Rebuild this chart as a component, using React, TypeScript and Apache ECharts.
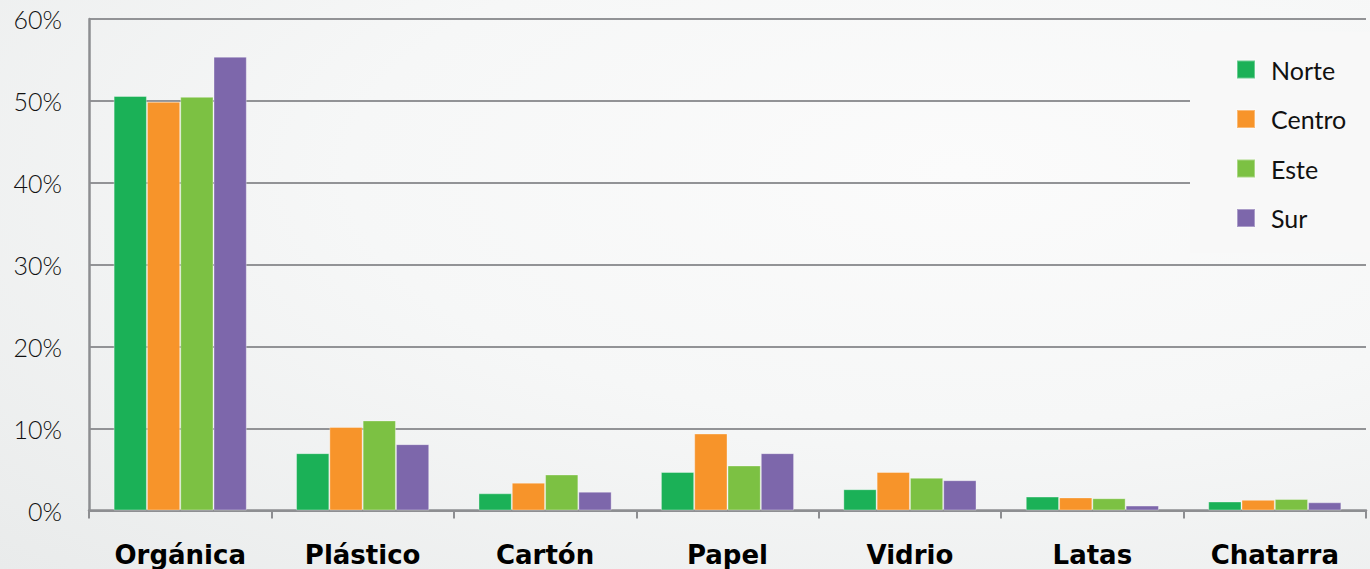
import React, { useEffect, useRef } from "react";
import * as echarts from "echarts";

const categories = ["Orgánica", "Plástico", "Cartón", "Papel", "Vidrio", "Latas", "Chatarra"];
const seriesNames = ["Norte", "Centro", "Este", "Sur"];
const norte = [50.6, 7.0, 2.1, 4.7, 2.6, 1.7, 1.1];
const centro = [49.9, 10.2, 3.4, 9.4, 4.7, 1.6, 1.3];
const este = [50.5, 11.0, 4.4, 5.5, 4.0, 1.5, 1.4];
const sur = [55.4, 8.1, 2.3, 7.0, 3.7, 0.6, 1.0];
const colors = ["#1bb157", "#f7942a", "#7cc143", "#7d67ab"];

export default function App() {
  const ref = useRef<HTMLDivElement>(null);
  useEffect(() => {
    if (!ref.current) return;
    const chart = echarts.init(ref.current, null, { renderer: "svg" });
    const data = [norte, centro, este, sur];
    chart.setOption({
      animation: false,
      backgroundColor: "transparent",
      grid: { left: 89, right: 4, top: 19, bottom: 58.5, containLabel: false },
      legend: {
        orient: "vertical",
        left: 1190,
        top: 32,
        padding: [25, 40, 22, 46],
        backgroundColor: "#f8f8f8",
        itemWidth: 18,
        itemHeight: 18,
        itemGap: 24.5,
        icon: "rect",
        data: seriesNames,
        textStyle: { fontFamily: "Lato", fontSize: 25, color: "#111", padding: [0, 0, 0, 11] },
      },
      xAxis: {
        type: "category",
        data: categories,
        axisLine: { lineStyle: { color: "#8d8e91", width: 2.5 } },
        axisTick: { show: true, length: 8, lineStyle: { color: "#8d8e91", width: 2 } },
        axisLabel: {
          margin: 31,
          fontFamily: "DejaVu Sans",
          fontWeight: "bold",
          fontSize: 26,
          color: "#000",
        },
      },
      yAxis: {
        type: "value",
        min: 0,
        max: 60,
        interval: 10,
        axisLine: { show: true, lineStyle: { color: "#8d8e91", width: 2.5 } },
        axisTick: { show: false },
        splitLine: { lineStyle: { color: "#929396", width: 2 } },
        axisLabel: {
          margin: 27,
          formatter: "{value}%",
          fontFamily: "Lato",
          fontWeight: 300,
          fontSize: 25,
          color: "#111",
        },
      },
      series: seriesNames.map((name, i) => ({
        name,
        type: "bar",
        data: data[i],
        barGap: "0%",
        barCategoryGap: "27%",
        itemStyle: { color: colors[i], borderColor: "rgba(255,255,255,0.35)", borderWidth: 1 },
      })),
    });
    return () => chart.dispose();
  }, []);
  return (
    <div
      style={{
        position: "absolute",
        left: 0,
        top: 0,
        width: 1370,
        height: 569,
        background: "radial-gradient(ellipse at 70% 30%, #fbfbfb 0%, #f6f7f7 45%, #e9ebeb 100%)",
      }}
    >
      <div ref={ref} style={{ width: 1370, height: 569 }} />
    </div>
  );
}
